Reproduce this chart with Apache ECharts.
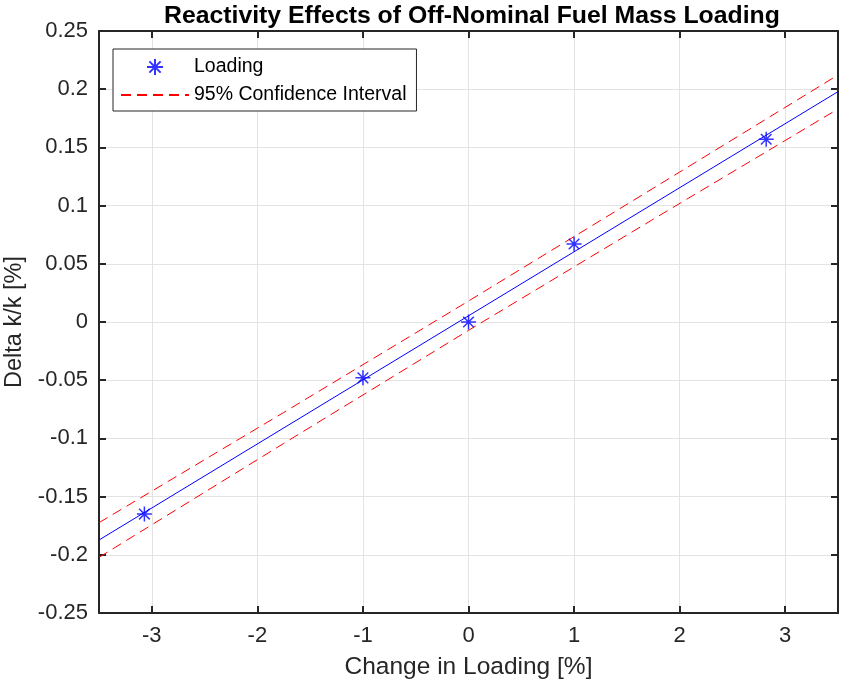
<!DOCTYPE html>
<html><head><meta charset="utf-8">
<script src="https://cdn.jsdelivr.net/npm/echarts@6/dist/echarts.min.js"></script>
<style>html,body{margin:0;padding:0;background:#fff}#c{width:841px;height:684px}</style>
</head><body><div id="c"></div>
<script>
// Data
var loadingX = [-3.07, -1.0, 0.0, 1.0, 2.82];
var loadingY = [-0.165, -0.048, 0.0, 0.067, 0.157];
var fitX = [-3.5, 3.5];
var fitY = [-0.1873, 0.1979];
var ciX = [-3.5, -1.75, 0, 1.75, 3.5];
var ciUpper = [-0.1724, -0.0777, 0.0180, 0.1149, 0.2122];
var ciLower = [-0.2022, -0.1043, -0.0072, 0.0883, 0.1830];
var xRange = [-3.5, 3.5];
var yRange = [-0.25, 0.25];

function pairs(xs, ys){ return xs.map(function(x,i){ return [x, ys[i]]; }); }

var FONT = 'Liberation Sans, Arial, Helvetica, sans-serif';
var AX = '#262626';
var star = 'path://M0,-10L0,10M-10,0L10,0M-7.07,-7.07L7.07,7.07M-7.07,7.07L7.07,-7.07';

var chart = echarts.init(document.getElementById('c'), null, {renderer:'canvas'});
chart.setOption({
  animation: false,
  backgroundColor: '#fff',
  title: {
    text: 'Reactivity Effects of Off-Nominal Fuel Mass Loading',
    left: 159, top: -1,
    textStyle: {fontFamily: FONT, fontWeight: 'bold', fontSize: 24.8, color: '#000'}
  },
  legend: {
    orient: 'vertical', left: 113, top: 49,
    padding: [8, 10, 6, 7], itemGap: 8,
    itemWidth: 68, itemHeight: 16,
    backgroundColor: '#fff', borderColor: AX, borderWidth: 1,
    textStyle: {fontFamily: FONT, fontSize: 19.5, color: '#000'},
    data: [
      {name: 'Loading'},
      {name: '95% Confidence Interval', itemStyle: {opacity: 0}}
    ]
  },
  grid: {left: 99, right: 3, top: 31, bottom: 71, containLabel: false, outerBoundsMode: 'none'},
  xAxis: [{
    type: 'value', min: xRange[0], max: xRange[1], splitNumber: 7,
    name: 'Change in Loading [%]', nameLocation: 'middle', nameGap: 42,
    nameTextStyle: {fontFamily: FONT, fontSize: 24.5, color: AX},
    axisLine: {show: true, onZero: false, lineStyle: {color: AX, width: 2}},
    axisTick: {show: true, inside: true, length: 7, lineStyle: {color: AX, width: 2}},
    axisLabel: {fontFamily: FONT, fontSize: 22, color: AX, margin: 12, showMinLabel: false, showMaxLabel: false},
    splitLine: {show: true, lineStyle: {color: '#e3e3e3', width: 1}}
  }, {
    type: 'value', position: 'top', min: xRange[0], max: xRange[1], splitNumber: 7,
    axisLine: {show: true, onZero: false, lineStyle: {color: AX, width: 2}},
    axisTick: {show: true, inside: true, length: 7, lineStyle: {color: AX, width: 2}},
    axisLabel: {show: false}, splitLine: {show: false}
  }],
  yAxis: [{
    type: 'value', min: yRange[0], max: yRange[1], interval: 0.05,
    name: 'Delta k/k [%]', nameLocation: 'middle', nameGap: 69, nameRotate: 90,
    nameTextStyle: {fontFamily: FONT, fontSize: 23.5, color: AX},
    axisLine: {show: true, onZero: false, lineStyle: {color: AX, width: 2}},
    axisTick: {show: true, inside: true, length: 7, lineStyle: {color: AX, width: 2}},
    axisLabel: {fontFamily: FONT, fontSize: 22, color: AX, margin: 11},
    splitLine: {show: true, lineStyle: {color: '#e3e3e3', width: 1}}
  }, {
    type: 'value', position: 'right', min: yRange[0], max: yRange[1], interval: 0.05,
    axisLine: {show: true, onZero: false, lineStyle: {color: AX, width: 2}},
    axisTick: {show: true, inside: true, length: 7, lineStyle: {color: AX, width: 2}},
    axisLabel: {show: false}, splitLine: {show: false}
  }],
  series: [
    {
      name: 'fit', type: 'line', data: pairs(fitX, fitY),
      symbol: 'none', lineStyle: {color: '#0000ff', width: 1}, z: 3
    },
    {
      name: '95% Confidence Interval', type: 'line', data: pairs(ciX, ciUpper),
      symbol: 'none', lineStyle: {color: '#ff0000', width: 1, type: [10, 6]},
      itemStyle: {color: '#ff0000'}, z: 3
    },
    {
      name: '95% Confidence Interval', type: 'line', data: pairs(ciX, ciLower),
      symbol: 'none', lineStyle: {color: '#ff0000', width: 1, type: [10, 6]},
      itemStyle: {color: '#ff0000'}, z: 3
    },
    {
      name: 'Loading', type: 'scatter', data: pairs(loadingX, loadingY),
      symbol: star, symbolSize: 15,
      itemStyle: {color: '#0000ff', borderColor: '#0000ff', borderWidth: 1.5}, z: 4
    }
  ]
});
</script>
</body></html>
